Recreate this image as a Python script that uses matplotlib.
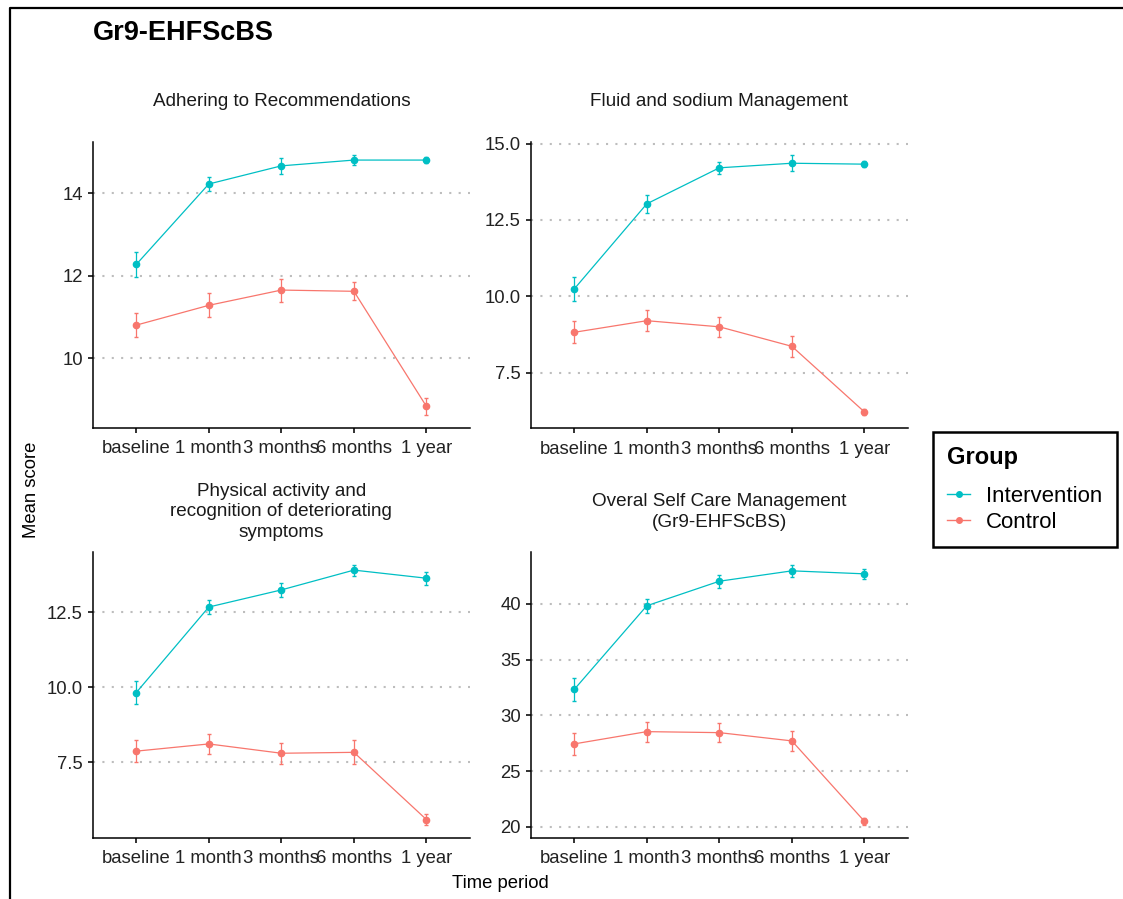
import numpy as np
import matplotlib.pyplot as plt
from matplotlib.lines import Line2D

plt.rcParams['font.family'] = ['Liberation Sans', 'DejaVu Sans']

# dados
tempos = ['baseline', '1 month', '3 months', '6 months', '1 year']
titulos = ['Adhering to Recommendations',
           'Fluid and sodium Management',
           'Physical activity and\nrecognition of deteriorating\nsymptoms',
           'Overal Self Care Management\n(Gr9-EHFScBS)']

interv_media = [
    [12.27, 14.22, 14.66, 14.80, 14.80],
    [10.24, 13.03, 14.21, 14.36, 14.33],
    [9.82, 12.67, 13.24, 13.90, 13.63],
    [32.32, 39.82, 42.02, 42.95, 42.68],
]
interv_ep = [
    [0.30, 0.16, 0.19, 0.13, 0.08],
    [0.38, 0.29, 0.19, 0.27, 0.10],
    [0.37, 0.23, 0.23, 0.18, 0.22],
    [1.00, 0.62, 0.58, 0.55, 0.43],
]
ctrl_media = [
    [10.80, 11.28, 11.65, 11.62, 8.83],
    [8.82, 9.20, 9.00, 8.36, 6.21],
    [7.87, 8.11, 7.80, 7.83, 5.59],
    [27.44, 28.54, 28.45, 27.71, 20.50],
]
ctrl_ep = [
    [0.29, 0.29, 0.28, 0.22, 0.20],
    [0.36, 0.34, 0.32, 0.34, 0.10],
    [0.36, 0.33, 0.35, 0.40, 0.17],
    [0.97, 0.90, 0.85, 0.92, 0.30],
]
yticks = [[10, 12, 14], [7.5, 10, 12.5, 15], [7.5, 10, 12.5], [20, 25, 30, 35, 40]]
yfmt = ['{:.0f}', '{:.1f}', '{:.1f}', '{:.0f}']

grupos = ['Intervention', 'Control']
cores = ['#00BFC4', '#F8766D']

W, H = 1123, 899
fig = plt.figure(figsize=(W / 100, H / 100), dpi=100)

# posicoes dos paineis em pixels (esq, topo)
pos = [(92.7, 141.7), (530.7, 142), (92.7, 551.7), (530.7, 551.7)]
larg, alt = 377.3, 286
titulo_y = [101, 101, 512, 512]

x = np.arange(1, 6)
for k in range(4):
    px, py = pos[k]
    ax = fig.add_axes([px / W, 1 - (py + alt) / H, larg / W, alt / H])
    series = [(interv_media[k], interv_ep[k]), (ctrl_media[k], ctrl_ep[k])]
    lo = min(min(np.array(m) - np.array(e)) for m, e in series)
    hi = max(max(np.array(m) + np.array(e)) for m, e in series)
    pad = (hi - lo) * 0.05
    for (m, e), c in zip(series, cores):
        ax.errorbar(x, m, yerr=e, color=c, lw=0.9, elinewidth=0.9, capsize=1.2,
                    marker='o', markersize=4.5, zorder=3)
    ax.set_ylim(lo - pad, hi + pad)
    ax.set_xlim(0.4, 5.6)
    ax.set_xticks(x)
    ax.set_xticklabels(tempos, fontsize=13.3)
    ax.set_yticks(yticks[k])
    ax.set_yticklabels([yfmt[k].format(v) for v in yticks[k]], fontsize=13.3)
    ax.yaxis.grid(True, linestyle=(0, (1, 3.5)), color='#BDBDBD', lw=1.5)
    ax.set_axisbelow(True)
    for s in ['top', 'right']:
        ax.spines[s].set_visible(False)
    for s in ['left', 'bottom']:
        ax.spines[s].set_linewidth(1.1)
    ax.tick_params(length=3.5, width=1.3, colors='#222222')
    ax.tick_params(axis='x', pad=5.5)
    fig.text((px + larg / 2) / W, 1 - titulo_y[k] / H, titulos[k], ha='center', va='center',
             fontsize=13.6, linespacing=1.3, color='#1a1a1a')

fig.text(93 / W, 1 - 33 / H, 'Gr9-EHFScBS', fontsize=19.5, fontweight='bold', va='center', ha='left')
fig.text(32 / W, 1 - 490 / H, 'Mean score', rotation=90, fontsize=13.3, va='center', ha='center')
fig.text(500 / W, 1 - 883 / H, 'Time period', fontsize=13.3, va='center', ha='center')

handles = [Line2D([], [], color=c, marker='o', markersize=4, lw=1) for c in cores]
leg = fig.legend(handles, grupos, title='Group', loc='upper left',
                 bbox_to_anchor=(933 / W, 1 - 432 / H), borderaxespad=0, frameon=True, fancybox=False,
                 edgecolor='black', framealpha=1, fontsize=16, handlelength=1.0,
                 title_fontproperties={'weight': 'bold', 'size': 17}, alignment='left',
                 labelspacing=0.2, borderpad=0.65, handletextpad=0.75)
leg._legend_box.sep = 12
leg.get_frame().set_linewidth(1.8)

# moldura externa
fig.add_artist(Line2D([9.5 / W, 9.5 / W, 1], [0, 1 - 8.3 / H, 1 - 8.3 / H], color='black', lw=1.6))

fig.savefig('out.png', dpi=100)
